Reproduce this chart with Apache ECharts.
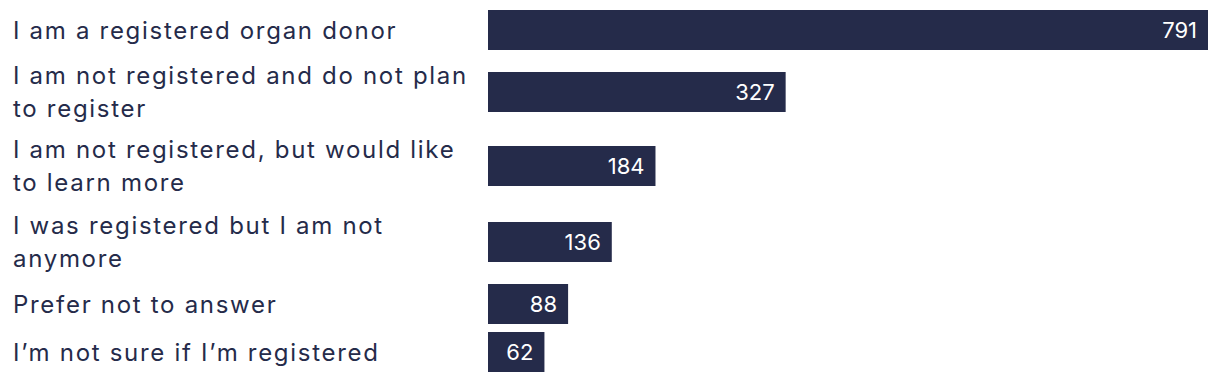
<!DOCTYPE html>
<html>
<head>
<meta charset="utf-8">
<script src="https://cdn.jsdelivr.net/npm/echarts@6/dist/echarts.min.js"></script>
<style>
html,body{margin:0;padding:0;background:#fff;}
#chart{width:1220px;height:382px;}
#chart text{letter-spacing:1.7px;}
#chart text[text-anchor="end"]{letter-spacing:0;}
</style>
</head>
<body>
<div id="chart"></div>
<script>
// Data
const categories = [
  "I am a registered organ donor",
  "I am not registered and do not plan\nto register",
  "I am not registered, but would like\nto learn more",
  "I was registered but I am not\nanymore",
  "Prefer not to answer",
  "I\u2019m not sure if I\u2019m registered"
];
const values = [791, 327, 184, 136, 88, 62];

// Layout (row tops in px, not data)
const rowTops = [10, 72, 146, 222, 284, 332];
const barHeight = 40;
const plotLeft = 488;
const plotWidth = 720;
const navy = '#252b4a';
const font = 'Inter';
const maxValue = Math.max.apply(null, values);

const grid = [], xAxis = [], yAxis = [], series = [];
categories.forEach(function (cat, i) {
  grid.push({ left: plotLeft, top: rowTops[i], width: plotWidth, height: barHeight, containLabel: false });
  xAxis.push({ gridIndex: i, type: 'value', min: 0, max: maxValue, show: false });
  yAxis.push({
    gridIndex: i, type: 'category', data: [cat],
    axisLine: { show: false }, axisTick: { show: false }, splitLine: { show: false },
    axisLabel: {
      show: true, align: 'left', margin: plotLeft - 13,
      color: navy, fontFamily: font, fontSize: 24, lineHeight: 33
    }
  });
  series.push({
    type: 'bar', xAxisIndex: i, yAxisIndex: i,
    data: [values[i]], barWidth: barHeight,
    itemStyle: { color: navy },
    label: {
      show: true, position: 'insideRight', distance: 11,
      color: '#ffffff', fontFamily: font, fontSize: 22
    },
    silent: true, animation: false
  });
});

const chart = echarts.init(document.getElementById('chart'), null, { renderer: 'svg' });
chart.setOption({ animation: false, grid: grid, xAxis: xAxis, yAxis: yAxis, series: series });
</script>
</body>
</html>
